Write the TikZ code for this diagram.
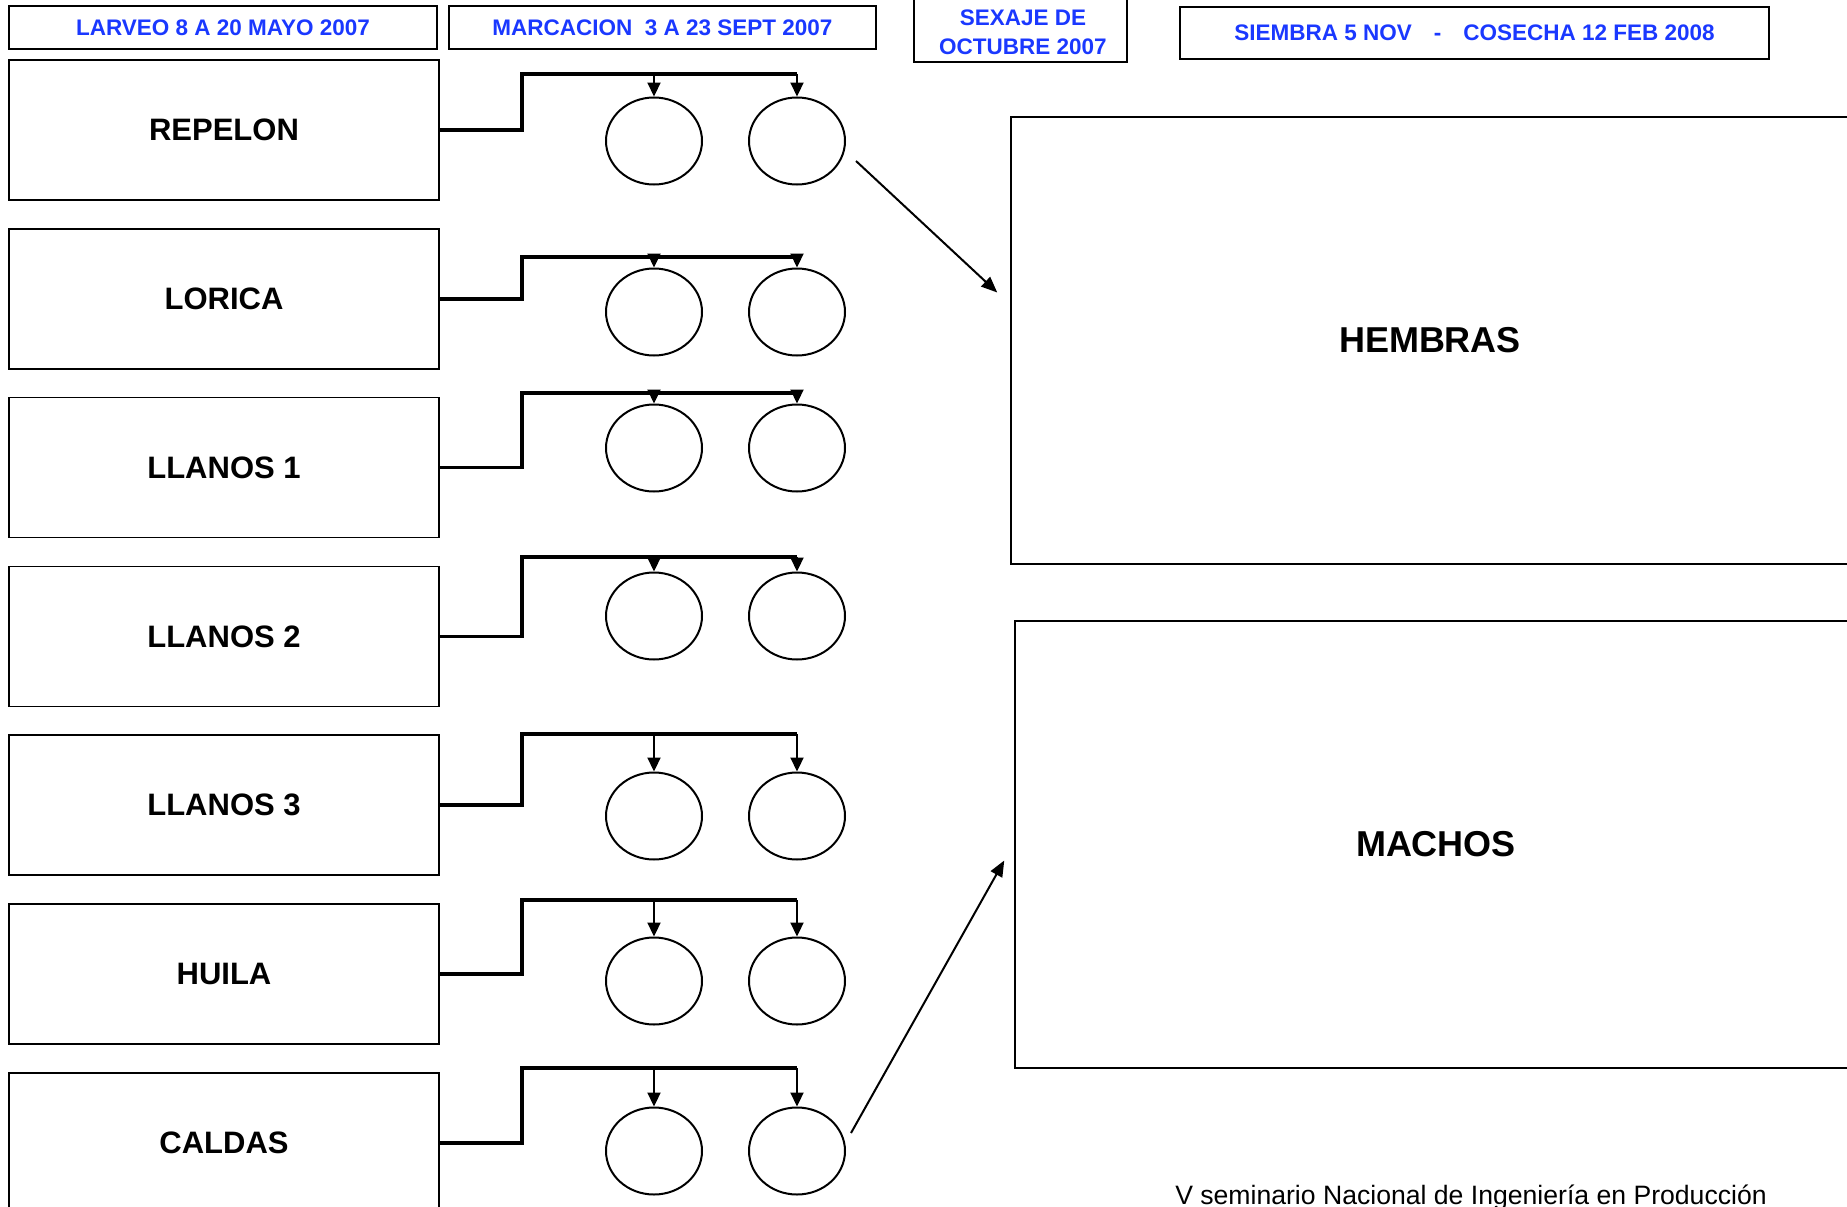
\documentclass[tikz,border=0pt]{standalone}
\usepackage{fontspec}
\setmainfont{Liberation Sans}
\usetikzlibrary{arrows.meta,shapes.geometric}
\begin{document}
\begin{tikzpicture}[x=1pt,y=-1pt,
  site/.style={draw,line width=1.5pt,minimum width=430pt,minimum height=140pt,inner sep=0pt,
    font=\fontsize{31}{37}\selectfont\bfseries},
  stage/.style={draw,line width=1.5pt,minimum height=43pt,inner sep=0pt,text=hdrblue,
    font=\fontsize{22.5}{29}\selectfont\bfseries},
  pond/.style={draw,ellipse,line width=2pt,minimum width=96pt,minimum height=87pt,inner sep=0pt},
  sexbox/.style={draw,line width=1.5pt,minimum width=838pt,minimum height=447pt,inner sep=0pt,
    font=\fontsize{36}{43}\selectfont\bfseries},
  bus/.style={line width=3.5pt},
  feed/.style={line width=2.2pt,-{Triangle[length=14pt,width=13pt]}},
  toward/.style={line width=2pt,-{Triangle[length=16pt,width=13pt]}}]
  \definecolor{hdrblue}{HTML}{1A38FF}
  \useasboundingbox (0,0) rectangle (1847,1207);
  % etapas
  \node [stage,minimum width=428pt] (larveo) at (223,27.5) {LARVEO 8 A 20 MAYO 2007};
  \node [stage,minimum width=427pt] (marca) at (662.5,27.5) {MARCACION\ \ 3 A 23 SEPT 2007};
  \draw [line width=1.8pt] (914,-5) |- (1127,62) -- (1127,-5);
  \node [text=hdrblue,align=center,font=\fontsize{22.5}{29}\selectfont\bfseries] (sexaje) at (1023,32) {SEXAJE DE\\OCTUBRE 2007};
  \node [stage,minimum width=589pt,minimum height=52pt] (siembra) at (1474.5,33)
    {SIEMBRA 5 NOV\hspace{22pt}-\hspace{22pt}COSECHA 12 FEB 2008};
  % lotes y estanques
  \foreach \i/\lab/\cy/\ty in {1/REPELON/141/74,2/LORICA/312/257,3/LLANOS 1/448/393,
      4/LLANOS 2/616/557,5/LLANOS 3/816/734,6/HUILA/981/900,7/CALDAS/1151/1068}{
    \pgfmathsetmacro{\by}{130+168.8*(\i-1)}
    \node [site] (b\i) at (224,\by) {\lab};
    \node [pond] (pa\i) at (654,\cy) {};
    \node [pond] (pb\i) at (797,\cy) {};
    \coordinate (t\i) at (797,\ty);
    \draw [bus] (b\i.east) -- ++(82,0) |- (t\i);
    \draw [feed] (pa\i.north |- t\i) -- (pa\i);
    \draw [feed] (t\i) -- (pb\i);
  }
  % sexos
  \node [sexbox] (hem) at (1430,340.5) {HEMBRAS};
  \node [sexbox,minimum width=842pt] (mac) at (1436,844.5) {MACHOS};
  \draw [toward] ([shift={(59,20)}]pb1.center) -- ([shift={(-13,-48)}]hem.west);
  \draw [toward] ([shift={(54,-18)}]pb7.center) -- ([shift={(-10,16)}]mac.west);
  \node [anchor=base,font=\fontsize{26.6}{32}\selectfont] (sem) at (1471,1204)
    {V seminario Nacional de Ingeniería en Producción};
\end{tikzpicture}
\end{document}
